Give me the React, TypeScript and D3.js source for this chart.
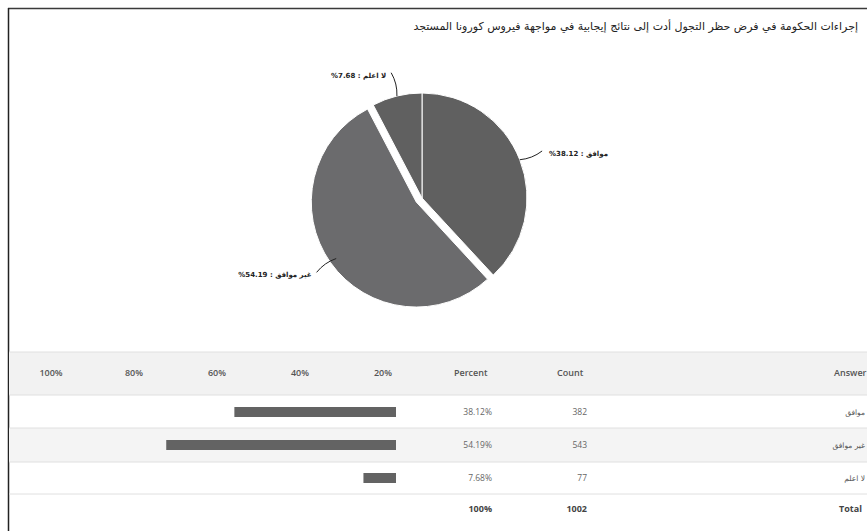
import React from "react";
import * as d3 from "d3";

const title = "إجراءات الحكومة في فرض حظر التجول أدت إلى نتائج إيجابية في مواجهة فيروس كورونا المستجد";
const answers = ["موافق", "غير موافق", "لا اعلم"];
const counts = [382, 543, 77];
const percents = [38.12, 54.19, 7.68];
const percentLabels = ["38.12%", "54.19%", "7.68%"];
const axisTicks = ["100%", "80%", "60%", "40%", "20%"];
const totalCount = "1002";
const totalPercent = "100%";
const exploded = [false, true, false];
const sliceColors = ["#606060", "#6b6b6d", "#606060"];

const W = 867;
const H = 531;

export default function App() {
  const cx = 422;
  const cy = 198;
  const r = 105;
  const pie = d3.pie<number>().value((d) => d).sort(null);
  const arcs = pie(percents);
  const arc = d3.arc<d3.PieArcDatum<number>>().innerRadius(0).outerRadius(r);

  const polar = (a: number, rad: number): [number, number] => [
    Math.sin(a) * rad,
    -Math.cos(a) * rad,
  ];

  // table geometry
  const headerTop = 352;
  const headerBottom = 395;
  const rowLines = [395, 428, 462, 494];
  const rowCenters = [412, 445, 478];
  const totalY = 509;
  const barRight = 396;
  const xBar = d3.scaleLinear().domain([0, 100]).range([barRight, barRight - 424]);
  const xTick = d3.scalePoint<string>().domain(axisTicks).range([51, 383]);

  const tableFont = "'Open Sans', 'DejaVu Sans', sans-serif";

  return (
    <svg
      width={W}
      height={H}
      style={{ position: "absolute", left: 0, top: 0, display: "block", background: "#fff" }}
    >
      {/* frame */}
      <line x1={8} y1={8.5} x2={W} y2={8.5} stroke="#3a3a3a" strokeWidth={1.5} />
      <line x1={8.5} y1={8} x2={8.5} y2={H} stroke="#222" strokeWidth={1.5} />

      {/* title */}
      <text
        x={858}
        y={30}
        textAnchor="end"
        fontFamily="'DejaVu Sans', sans-serif"
        fontSize={11}
        fill="#222"
      >
        {title}
      </text>

      {/* pie */}
      <g transform={`translate(${cx},${cy})`}>
        {arcs.map((a, i) => {
          const mid = (a.startAngle + a.endAngle) / 2;
          const [ox, oy] = exploded[i] ? polar(mid, 7) : [0, 0];
          return (
            <path
              key={i}
              d={arc(a) || ""}
              transform={`translate(${ox},${oy})`}
              fill={sliceColors[i]}
              stroke="#fff"
              strokeWidth={1}
            />
          );
        })}
        {arcs.map((a, i) => {
          const mid = (a.startAngle + a.endAngle) / 2;
          const [x0, y0] = polar(mid, r);
          const [x1, y1] = polar(mid, r + 24);
          const [mx, my] = polar(mid + 0.03, r + 12);
          const p = d3.path();
          p.moveTo(x0, y0);
          p.quadraticCurveTo(mx, my, x1, y1);
          const right = Math.sin(mid) > 0;
          const label = `%${percents[i].toFixed(2)} : ${answers[i]}`;
          return (
            <g key={"l" + i}>
              <path d={p.toString()} fill="none" stroke="#222" strokeWidth={1} />
              <text
                x={right ? x1 + 7 : x1 - 5}
                y={y1 + 5}
                textAnchor={right ? "start" : "end"}
                fontFamily="'DejaVu Sans', sans-serif"
                fontWeight="bold"
                fontSize={7}
                fill="#222"
              >
                {label}
              </text>
            </g>
          );
        })}
      </g>

      {/* table backgrounds */}
      <rect x={9} y={headerTop} width={W - 9} height={headerBottom - headerTop} fill="#f2f2f2" />
      <rect x={9} y={rowLines[1]} width={W - 9} height={rowLines[2] - rowLines[1]} fill="#f4f4f4" />
      {[headerTop, ...rowLines].map((y, i) => (
        <line key={i} x1={9} x2={W} y1={y} y2={y} stroke="#e0e0e0" strokeWidth={1} />
      ))}

      {/* header */}
      {axisTicks.map((t) => (
        <text
          key={t}
          x={xTick(t)}
          y={376}
          textAnchor="middle"
          fontFamily={tableFont}
          fontWeight={600}
          fontSize={9}
          fill="#555"
        >
          {t}
        </text>
      ))}
      <text x={454} y={376} fontFamily={tableFont} fontWeight={600} fontSize={9} fill="#555">
        Percent
      </text>
      <text x={557} y={376} fontFamily={tableFont} fontWeight={600} fontSize={9} fill="#555">
        Count
      </text>
      <text x={834} y={376} fontFamily={tableFont} fontWeight={600} fontSize={9} fill="#555">
        Answer
      </text>

      {/* rows */}
      {percents.map((p, i) => (
        <g key={"row" + i}>
          <rect
            x={xBar(p)}
            y={rowCenters[i] - 5}
            width={xBar(0) - xBar(p)}
            height={10}
            fill="#636363"
          />
          <text
            x={492}
            y={rowCenters[i] + 3}
            textAnchor="end"
            fontFamily={tableFont}
            fontSize={8.5}
            fill="#666"
          >
            {percentLabels[i]}
          </text>
          <text
            x={587}
            y={rowCenters[i] + 3}
            textAnchor="end"
            fontFamily={tableFont}
            fontSize={8.5}
            fill="#666"
          >
            {counts[i]}
          </text>
          <text
            x={865}
            y={rowCenters[i] + 3}
            textAnchor="end"
            fontFamily="'DejaVu Sans', sans-serif"
            fontSize={7.5}
            fill="#555"
          >
            {answers[i]}
          </text>
        </g>
      ))}

      {/* totals */}
      <text x={492} y={totalY + 3} textAnchor="end" fontFamily={tableFont} fontWeight="bold" fontSize={9} fill="#444">
        {totalPercent}
      </text>
      <text x={587} y={totalY + 3} textAnchor="end" fontFamily={tableFont} fontWeight="bold" fontSize={9} fill="#444">
        {totalCount}
      </text>
      <text x={839} y={totalY + 3} fontFamily={tableFont} fontWeight="bold" fontSize={9} fill="#444">
        Total
      </text>
    </svg>
  );
}
